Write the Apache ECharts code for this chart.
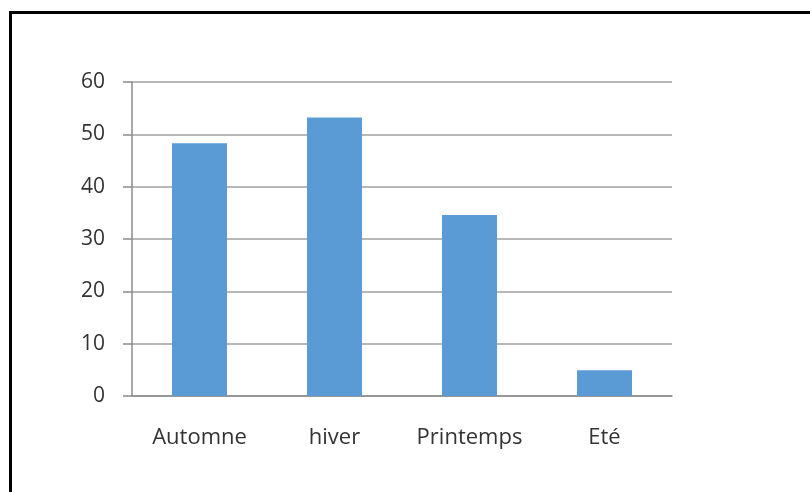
<!DOCTYPE html>
<html>
<head>
<meta charset="utf-8">
<script src="https://cdn.jsdelivr.net/npm/echarts@6/dist/echarts.min.js"></script>
<style>
    html, body { margin: 0; padding: 0; background: #fff; }
    #chart { width: 810px; height: 492px; }
</style>
</head>
<body>
<div id="chart"></div>
<script>
// saisons et valeurs
var saisons = ['Automne', 'hiver', 'Printemps', 'Eté'];
var valeurs = [48.3, 53.2, 34.6, 4.9];
var graduations = [0, 10, 20, 30, 40, 50, 60];

var myChart = echarts.init(document.getElementById('chart'));
var option = {
    animation: false,
    textStyle: { fontFamily: 'Open Sans' },
    grid: {
        left: 132,
        top: 82,
        width: 540,
        height: 314
    },
    // cadre noir (haut et gauche)
    graphic: [
        { type: 'line', shape: { x1: 10.5, y1: 12.5, x2: 810, y2: 12.5 }, style: { stroke: '#000', lineWidth: 3 } },
        { type: 'line', shape: { x1: 10.5, y1: 11, x2: 10.5, y2: 492 }, style: { stroke: '#000', lineWidth: 3 } }
    ],
    xAxis: {
        type: 'category',
        data: saisons,
        axisLine: { lineStyle: { color: '#8c8c8c', width: 1.5 } },
        axisTick: { length: 9, lineStyle: { color: '#8c8c8c', width: 1.5 } },
        axisLabel: { color: '#333', fontSize: 22, margin: 31, interval: 0, hideOverlap: false }
    },
    yAxis: {
        type: 'value',
        min: 0,
        max: 60,
        interval: 10,
        axisLine: { show: true, lineStyle: { color: '#8c8c8c', width: 1.5 } },
        axisTick: { show: true, length: 9, lineStyle: { color: '#8c8c8c', width: 1.5 } },
        axisLabel: {
            color: '#333', fontSize: 21, margin: 27,
            formatter: function (v) { return graduations.indexOf(v) >= 0 ? String(v) : ''; }
        },
        splitLine: { lineStyle: { color: '#a0a0a0', width: 1.5 } }
    },
    series: [
        {
            type: 'bar',
            data: valeurs,
            barWidth: 55,
            itemStyle: { color: '#5b9bd5' }
        }
    ]
};
myChart.setOption(option);
</script>
</body>
</html>
